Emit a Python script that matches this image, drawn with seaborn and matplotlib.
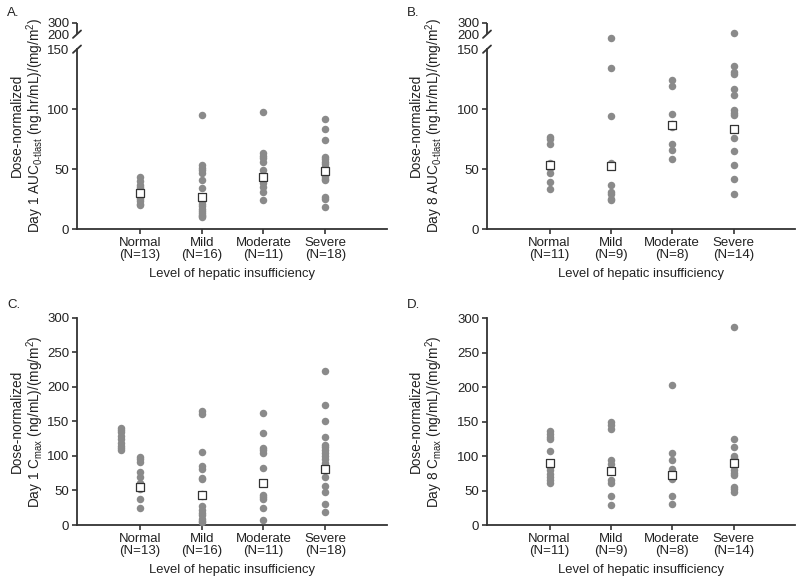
import numpy as np
import matplotlib
matplotlib.use('Agg')
import matplotlib.pyplot as plt
import seaborn as sns

levels = ['Normal', 'Mild', 'Moderate', 'Severe']

# A. Day 1 AUC0-tlast
a_counts = [13, 16, 11, 18]
a_normal = [43, 40, 37, 35, 33, 31, 30, 29, 27, 25, 23, 21, 20]
a_mild = [95, 53, 51, 49, 47, 41, 34, 23, 21, 19, 17, 15, 13, 12, 11, 10]
a_moderate = [98, 63, 61, 59, 56, 49, 44, 38, 35, 31, 24]
a_severe = [92, 83, 74, 60, 58, 56, 54, 52, 50, 48, 47, 45, 43, 42, 41, 27, 25, 18]
a_mean = [30.3, 26.4, 43.6, 48.0]

# B. Day 8 AUC0-tlast
b_counts = [11, 9, 8, 14]
b_normal = [77, 75, 71, 55, 54, 53, 52, 51, 47, 39, 33]
b_mild = [187, 134, 94, 55, 37, 31, 29, 25, 24]
b_moderate = [124, 119, 96, 88, 85, 71, 66, 58]
b_severe = [214, 136, 131, 129, 117, 112, 99, 97, 95, 76, 65, 53, 42, 29]
b_mean = [53.0, 52.8, 86.4, 83.6]

# C. Day 1 Cmax
c_counts = [13, 16, 11, 18]
c_normal = [99, 95, 91, 77, 69, 61, 56, 52, 38, 25]
c_normal_side = [141, 138, 134, 129, 124, 119, 115, 111, 108]
c_mild = [165, 161, 105, 85, 81, 68, 66, 45, 42, 27, 22, 18, 14, 9, 6, 4]
c_moderate = [162, 133, 112, 108, 104, 82, 44, 41, 38, 25, 7]
c_severe = [223, 173, 151, 128, 116, 113, 108, 104, 100, 96, 90, 84, 80, 69, 56, 48, 31, 19]
c_mean = [55.4, 43.4, 61.3, 81.5]

# D. Day 8 Cmax
d_counts = [11, 9, 8, 14]
d_normal = [137, 132, 128, 125, 108, 85, 80, 75, 70, 66, 61]
d_mild = [150, 146, 139, 94, 89, 65, 61, 43, 30]
d_moderate = [203, 105, 95, 81, 76, 67, 42, 31]
d_severe = [288, 125, 113, 100, 97, 92, 89, 86, 80, 76, 73, 55, 52, 48]
d_mean = [89.9, 79.0, 73.3, 90.0]

dot_color = '#8a8a8a'
ink = '#222222'
narrow = ['Liberation Sans Narrow', 'Liberation Sans', 'DejaVu Sans']

sns.set_theme(style='ticks')
plt.rcParams['font.family'] = ['Liberation Sans', 'DejaVu Sans']
plt.rcParams['mathtext.default'] = 'regular'
plt.rcParams['font.size'] = 9.5


# piecewise y scale for the broken axis (0-150 | gap | 200-300)
def fwd(y):
    y = np.asarray(y, dtype=float)
    return np.where(y <= 150, y * 1.2,
                    np.where(y <= 200, 180 + (y - 150) * 0.3, 195 + (y - 200) * 0.115))


def inv(v):
    v = np.asarray(v, dtype=float)
    return np.where(v <= 180, v / 1.2,
                    np.where(v <= 195, 150 + (v - 180) / 0.3, 200 + (v - 195) / 0.115))


def draw_panel(ax, groups, means, counts, ylabel, broken, label_x):
    xs, ys = [], []
    for lvl, vals in zip(levels, groups):
        xs += [lvl] * len(vals)
        ys += vals
    sns.stripplot(x=xs, y=ys, order=levels, jitter=False, color=dot_color,
                  size=5.4, linewidth=0, ax=ax, zorder=3, clip_on=False)
    sns.stripplot(x=levels, y=means, order=levels, jitter=False, marker='s',
                  color='white', edgecolor='#333333', linewidth=0.9, size=5.6,
                  ax=ax, zorder=4)
    ax.set_xlim(-1.02, 4.0)
    ax.set_xticks(range(4))
    ax.set_xticklabels([f'{l}\n(N={n})' for l, n in zip(levels, counts)],
                       linespacing=1.05, color=ink)
    ax.set_xlabel('Level of hepatic insufficiency', color=ink, labelpad=5,
                  family=narrow, fontsize=9.4)
    ax.set_ylabel(ylabel, color=ink, linespacing=1.05,
                  family=narrow, fontsize=9.8)
    ax.yaxis.set_label_coords(label_x, 0.5)
    sns.despine(ax=ax)
    for s in ['left', 'bottom']:
        ax.spines[s].set_linewidth(1.3)
        ax.spines[s].set_color('#333333')
    ax.tick_params(axis='both', direction='out', length=3.5, width=1.2,
                   color='#333333', labelcolor=ink, labelsize=9.5, pad=2)
    if broken:
        ax.set_yscale('function', functions=(fwd, inv))
        ax.set_ylim(0, 300)
        ax.set_yticks([0, 50, 100, 150, 200, 300])
        ax.spines['left'].set_bounds(0, 150)
        for t, v in zip(ax.yaxis.get_major_ticks(), [0, 50, 100, 150, 200, 300]):
            if v in (150, 200):
                t.tick1line.set_visible(False)
        yt = ax.get_yaxis_transform()
        ax.plot([0, 0], [200, 300], transform=yt, color='#333333', lw=1.3,
                clip_on=False, solid_capstyle='butt')
        top = float(fwd(300))
        for v in (150, 200):
            yf = float(fwd(v)) / top
            ax.plot([-0.013, 0.013], [yf - 0.018, yf + 0.018], transform=ax.transAxes,
                    color='#333333', lw=1.3, clip_on=False)
    else:
        ax.set_ylim(0, 300)
        ax.set_yticks([0, 50, 100, 150, 200, 250, 300])


fig = plt.figure(figsize=(8, 5.83), dpi=100)
W, H = 800, 583


def box(l, r, t, b):
    return [l / W, 1 - b / H, (r - l) / W, (b - t) / H]


ax_a = fig.add_axes(box(77, 387, 22.7, 229))
ax_b = fig.add_axes(box(487, 795, 22.7, 229))
ax_c = fig.add_axes(box(77, 387, 317.7, 525))
ax_d = fig.add_axes(box(487, 795, 318.3, 525.3))

draw_panel(ax_a, [a_normal, a_mild, a_moderate, a_severe], a_mean, a_counts,
           'Dose-normalized\nDay 1 AUC$_{0\u2010tlast}$ (ng.hr/mL)/(mg/m$^2$)', True, -0.1)
draw_panel(ax_b, [b_normal, b_mild, b_moderate, b_severe], b_mean, b_counts,
           'Dose-normalized\nDay 8 AUC$_{0\u2010tlast}$ (ng.hr/mL)/(mg/m$^2$)', True, -0.135)
draw_panel(ax_c, [c_normal, c_mild, c_moderate, c_severe], c_mean, c_counts,
           'Dose-normalized\nDay 1 C$_{max}$ (ng/mL)/(mg/m$^2$)', False, -0.1)
draw_panel(ax_d, [d_normal, d_mild, d_moderate, d_severe], d_mean, d_counts,
           'Dose-normalized\nDay 8 C$_{max}$ (ng/mL)/(mg/m$^2$)', False, -0.135)

# extra Normal cluster drawn just left of the Normal column in panel C
ax_c.scatter(np.full(len(c_normal_side), -0.31), c_normal_side, s=29,
             color=dot_color, linewidths=0, zorder=3)

for lab, x, y in [('A.', 7, 16), ('B.', 407, 16), ('C.', 7, 308), ('D.', 407, 308)]:
    fig.text(x / W, 1 - y / H, lab, fontsize=9.5, color=ink)

fig.savefig('out.png', dpi=100)
